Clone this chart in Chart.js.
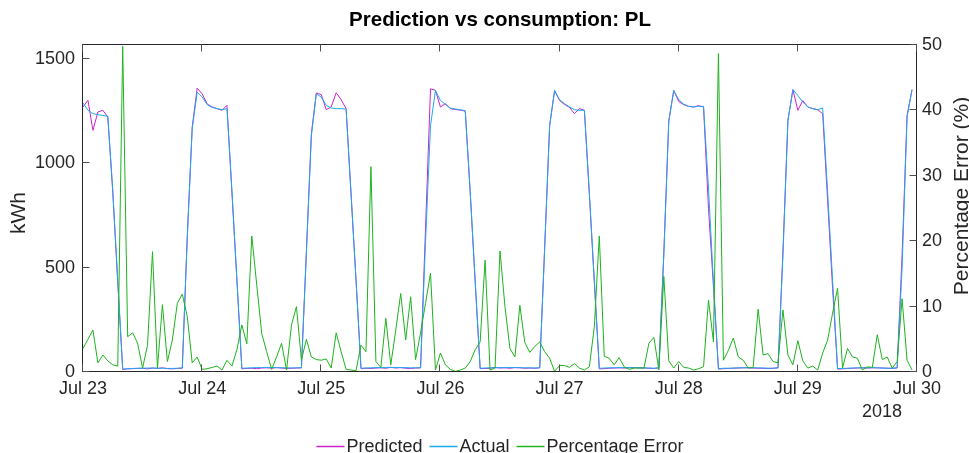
<!DOCTYPE html>
<html>
<head>
<meta charset="utf-8">
<title>Prediction vs consumption: PL</title>
<script src="https://cdn.jsdelivr.net/npm/chart.js@4.4.1/dist/chart.umd.min.js"></script>
<style>
  html, body { margin: 0; padding: 0; background: #fff; }
  #wrap { width: 969px; height: 453px; position: relative; }
</style>
</head>
<body>
<div id="wrap"><canvas id="chart"></canvas></div>
<script>
// hourly samples, Jul 23 00:00 .. Jul 29 23:00 (2018)
const dayLabels = ['Jul 23', 'Jul 24', 'Jul 25', 'Jul 26', 'Jul 27', 'Jul 28', 'Jul 29', 'Jul 30']
const dayTickHours = [0, 24, 48, 72, 96, 120, 144, 168]
const kwhTicks = [0, 500, 1000, 1500]
const pctTicks = [0, 10, 20, 30, 40, 50]
const yearLabel = '2018'

const predicted = [
  1270, 1302, 1158, 1246, 1254, 1222, 860, 430, 12, 15, 16, 17, 18, 15, 19, 17, 20, 16, 15, 17, 18, 650, 1174, 1360,
  1333, 1285, 1270, 1262, 1254, 1278, 860, 440, 15, 17, 18, 16, 19, 20, 18, 21, 19, 17, 18, 19, 20, 580, 1142, 1337,
  1329, 1257, 1270, 1338, 1305, 1262, 850, 440, 16, 18, 17, 19, 20, 18, 22, 19, 21, 18, 17, 19, 20, 690, 1357, 1350,
  1270, 1286, 1262, 1258, 1255, 1250, 860, 430, 16, 17, 18, 22, 19, 20, 18, 21, 20, 18, 19, 18, 20, 600, 1182, 1349,
  1301, 1282, 1268, 1238, 1262, 1254, 850, 430, 15, 16, 18, 19, 20, 19, 20, 21, 20, 19, 18, 17, 20, 570, 1206, 1349,
  1296, 1281, 1273, 1270, 1276, 1270, 783, 410, 14, 16, 17, 18, 19, 20, 20, 19, 18, 18, 17, 18, 20, 580, 1206, 1353,
  1254, 1301, 1270, 1262, 1257, 1238, 820, 400, 14, 15, 17, 18, 19, 20, 19, 20, 20, 19, 18, 17, 20, 560, 1230, 1353
]

const actual = [
  1289, 1254, 1238, 1233, 1230, 1225, 870, 440, 14, 16, 17, 18, 18, 19, 19, 18, 18, 17, 17, 18, 20, 640, 1165, 1341,
  1318, 1282, 1268, 1262, 1257, 1262, 870, 445, 18, 19, 20, 21, 21, 22, 22, 21, 20, 20, 19, 20, 20, 570, 1130, 1333,
  1317, 1278, 1265, 1262, 1262, 1260, 855, 440, 18, 19, 20, 21, 21, 22, 22, 22, 21, 21, 20, 20, 20, 625, 1180, 1349,
  1301, 1282, 1265, 1260, 1257, 1252, 865, 440, 18, 19, 20, 20, 21, 21, 22, 21, 21, 20, 20, 19, 20, 590, 1180, 1349,
  1305, 1286, 1270, 1257, 1254, 1254, 860, 440, 18, 19, 20, 20, 21, 21, 21, 21, 20, 20, 19, 18, 20, 560, 1200, 1349,
  1305, 1284, 1273, 1270, 1273, 1273, 880, 430, 16, 18, 18, 19, 20, 20, 21, 20, 20, 19, 18, 18, 20, 560, 1206, 1353,
  1325, 1294, 1270, 1262, 1257, 1265, 860, 440, 16, 17, 18, 19, 20, 20, 20, 21, 20, 19, 18, 18, 20, 500, 1222, 1353
]

const pctError = [
  3.6, 5.0, 6.4, 1.4, 2.6, 1.7, 1.1, 0.9, 49.8, 5.4, 6.0, 4.4, 0.6, 4.1, 18.4, 0.6, 10.3, 1.6, 4.9, 10.5, 11.9, 8.5, 1.4, 2.3,
  0.4, 0.5, 0.7, 0.9, 0.3, 1.8, 0.9, 3.4, 7.2, 4.3, 20.8, 13.3, 5.9, 3.1, 0.4, 2.3, 4.4, 0.3, 7.2, 10.0, 1.8, 5.0, 2.3, 1.9,
  1.8, 2.0, 0.6, 6.0, 3.1, 0.4, 0.3, 0.2, 4.1, 3.1, 31.4, 1.6, 0.7, 8.2, 1.1, 6.4, 12.0, 4.9, 11.5, 1.9, 6.0, 10.5, 15.1, 0.3,
  2.9, 1.1, 0.4, 0.1, 0.3, 0.6, 1.6, 3.4, 4.6, 17.1, 0.3, 0.6, 18.5, 10.0, 3.6, 2.3, 10.2, 4.5, 3.0, 3.9, 4.6, 3.1, 2.1, 0.1,
  1.0, 1.0, 0.7, 1.3, 0.6, 0.3, 0.8, 6.9, 20.8, 2.4, 2.1, 1.1, 2.2, 0.8, 0.4, 0.6, 0.6, 0.6, 4.4, 5.3, 0.3, 14.6, 1.7, 0.6,
  1.6, 0.7, 0.6, 0.3, 0.5, 0.8, 11.0, 4.6, 48.7, 1.8, 3.3, 5.2, 2.3, 1.8, 0.6, 0.7, 9.6, 2.6, 2.8, 1.6, 1.4, 9.5, 2.6, 1.1,
  4.8, 1.7, 0.6, 0.9, 0.3, 2.9, 4.9, 9.0, 12.8, 0.6, 3.6, 2.3, 2.1, 0.3, 0.8, 0.7, 5.7, 1.9, 2.3, 0.6, 1.6, 11.2, 1.8, 0.3
]

const FONT = '"Liberation Sans", Arial, Helvetica, sans-serif'
const INK = '#262626'
const PRED_COLOR = '#cc22cc'
const ACT_COLOR = '#1aaaee'
const ERR_COLOR = '#1db31d'

Chart.defaults.font.family = FONT
Chart.defaults.font.size = 18
Chart.defaults.color = INK

const toPoints = (values) => values.map((y, x) => ({ x, y }))

const series = [
  { label: 'Predicted', values: predicted, color: PRED_COLOR, axis: 'y', order: 3 },
  { label: 'Actual', values: actual, color: ACT_COLOR, axis: 'y', order: 2 },
  { label: 'Percentage Error', values: pctError, color: ERR_COLOR, axis: 'y1', order: 1 }
]

// box, inward tick marks, axis titles, year note and legend
const decorations = {
  id: 'decorations',
  afterDraw(chart) {
    const { ctx, chartArea: a, scales } = chart
    const L = Math.round(a.left) - 0.5, R = Math.round(a.right) - 0.5
    const T = Math.round(a.top) - 0.5, B = Math.round(a.bottom) - 0.5
    const tick = 7
    ctx.save()
    ctx.strokeStyle = INK
    ctx.lineWidth = 1
    ctx.strokeRect(L, T, R - L, B - T)

    ctx.strokeStyle = '#4d4d4d'
    ctx.beginPath()
    dayTickHours.forEach(h => {
      const px = Math.round(scales.x.getPixelForValue(h)) - 0.5
      ctx.moveTo(px, B); ctx.lineTo(px, B - tick)
      ctx.moveTo(px, T); ctx.lineTo(px, T + tick)
    })
    kwhTicks.forEach(v => {
      const py = Math.round(scales.y.getPixelForValue(v)) - 0.5
      ctx.moveTo(L, py); ctx.lineTo(L + tick, py)
    })
    pctTicks.forEach(v => {
      const py = Math.round(scales.y1.getPixelForValue(v)) - 0.5
      ctx.moveTo(R, py); ctx.lineTo(R - tick, py)
    })
    ctx.stroke()

    ctx.fillStyle = INK
    ctx.font = '21px ' + FONT
    ctx.textAlign = 'center'
    ctx.textBaseline = 'middle'
    ctx.save(); ctx.translate(19, 213); ctx.rotate(-Math.PI / 2); ctx.fillText('kWh', 0, 0); ctx.restore()
    ctx.save(); ctx.translate(962, 196); ctx.rotate(-Math.PI / 2); ctx.fillText('Percentage Error (%)', 0, 0); ctx.restore()

    ctx.font = '18px ' + FONT
    ctx.textAlign = 'right'
    ctx.fillText(yearLabel, a.right - 15, 412)

    // legend row: short line sample followed by the label
    const sample = 28
    const gap = 7
    const widths = series.map(s => sample + 2 + ctx.measureText(s.label).width)
    const total = widths.reduce((p, w) => p + w, 0) + gap * (series.length - 1)
    let x = (a.left + a.right) / 2 - total / 2
    ctx.textAlign = 'left'
    ctx.textBaseline = 'alphabetic'
    series.forEach((s, i) => {
      ctx.strokeStyle = s.color
      ctx.lineWidth = 1.5
      ctx.beginPath(); ctx.moveTo(x, 446.5); ctx.lineTo(x + sample, 446.5); ctx.stroke()
      ctx.fillStyle = INK
      ctx.fillText(s.label, x + sample + 2, 452)
      x += widths[i] + gap
    })
    ctx.restore()
  }
}

const ctx = document.getElementById('chart').getContext('2d')
new Chart(ctx, {
  type: 'line',
  data: {
    datasets: series.map(s => ({
      label: s.label,
      data: toPoints(s.values),
      yAxisID: s.axis,
      order: s.order,
      borderColor: s.color,
      backgroundColor: s.color,
      borderWidth: 1,
      pointRadius: 0,
      tension: 0,
      fill: false
    }))
  },
  options: {
    responsive: true,
    maintainAspectRatio: false,
    animation: false,
    devicePixelRatio: 1,
    layout: { padding: 0 },
    plugins: {
      legend: { display: false },
      tooltip: { enabled: false },
      title: {
        display: true,
        text: 'Prediction vs consumption: PL',
        color: '#000',
        fullSize: false,
        font: { size: 20.5, weight: 'bold' },
        padding: { top: 8, bottom: 12.4 }
      }
    },
    scales: {
      x: {
        type: 'linear',
        min: 0,
        max: 168,
        grid: { display: false, drawTicks: false },
        border: { display: false },
        afterBuildTicks: (scale) => { scale.ticks = dayTickHours.map(value => ({ value })) },
        afterFit: (scale) => { scale.height = 81 },
        ticks: {
          autoSkip: false,
          maxRotation: 0,
          padding: 6,
          callback: (value) => dayLabels[dayTickHours.indexOf(value)]
        }
      },
      y: {
        position: 'left',
        min: 0,
        max: 1567,
        grid: { display: false, drawTicks: false },
        border: { display: false },
        afterBuildTicks: (scale) => { scale.ticks = kwhTicks.map(value => ({ value })) },
        afterFit: (scale) => { scale.width = 83 },
        ticks: { padding: 8, callback: (value) => String(value) }
      },
      y1: {
        position: 'right',
        min: 0,
        max: 50,
        grid: { display: false, drawTicks: false },
        border: { display: false },
        afterBuildTicks: (scale) => { scale.ticks = pctTicks.map(value => ({ value })) },
        afterFit: (scale) => { scale.width = 52 },
        ticks: { padding: 5, callback: (value) => String(value) }
      }
    }
  },
  plugins: [decorations]
})
</script>
</body>
</html>
